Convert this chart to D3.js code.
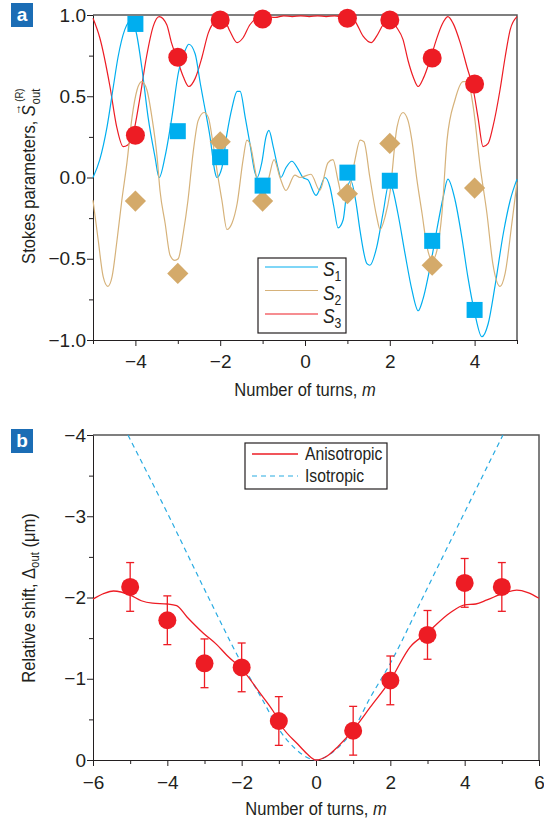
<!DOCTYPE html>
<html>
<head>
<meta charset="utf-8">
<script src="https://cdn.jsdelivr.net/npm/d3@7"></script>
<style>
body { margin: 0; background: #fff; }
svg text { fill: #231f20; }
.tick text { font-family: "Liberation Sans", Arial, sans-serif; font-size: 19px; }
.txt { font-family: "Liberation Sans", Arial, sans-serif; font-size: 19px; }
</style>
</head>
<body>
<div id="chart"></div>
<script>
// ---- panel a : Stokes parameters vs number of turns ----
var turnsA = [-4, -3, -2, -1, 1, 2, 3, 4];
var s1Measured = [0.945, 0.285, 0.125, -0.05, 0.03, -0.02, -0.39, -0.815];
var s2Measured = [-0.145, -0.59, 0.22, -0.145, -0.10, 0.21, -0.54, -0.065];
var s3Measured = [0.26, 0.74, 0.97, 0.975, 0.98, 0.97, 0.735, 0.575];

var s1Curve = [[-5,0],[-4.84,0.11],[-4.67,0.31],[-4.52,0.56],[-4.41,0.74],[-4.25,0.91],[-4.08,0.97],[-3.97,0.88],[-3.85,0.68],[-3.7,0.37],[-3.54,0.13],[-3.44,0],[-3.3,0.13],[-3.14,0.37],[-2.99,0.64],[-2.83,0.78],[-2.74,0.82],[-2.59,0.76],[-2.47,0.58],[-2.4,0.48],[-2.24,0.25],[-2.12,0.03],[-2.08,0],[-1.96,0.06],[-1.84,0.27],[-1.72,0.43],[-1.6,0.53],[-1.53,0.53],[-1.41,0.37],[-1.3,0.21],[-1.18,0.03],[-1.13,0],[-1.02,0.09],[-0.92,0.25],[-0.85,0.29],[-0.75,0.19],[-0.63,0.05],[-0.57,0],[-0.45,0.06],[-0.31,0.1],[-0.16,0.05],[-0.05,0],[0.07,-0.015],[0.26,-0.11],[0.35,-0.07],[0.47,0],[0.59,-0.06],[0.68,-0.18],[0.78,-0.31],[0.9,-0.26],[0.99,-0.08],[1.08,-0.02],[1.2,-0.15],[1.3,-0.33],[1.46,-0.53],[1.53,-0.54],[1.69,-0.43],[1.84,-0.22],[1.98,-0.04],[2.05,-0.06],[2.19,-0.22],[2.36,-0.47],[2.52,-0.69],[2.67,-0.82],[2.78,-0.75],[2.95,-0.55],[3.11,-0.32],[3.26,-0.12],[3.37,-0.01],[3.54,-0.14],[3.7,-0.37],[3.84,-0.61],[4.0,-0.83],[4.17,-0.98],[4.32,-0.9],[4.48,-0.67],[4.68,-0.34],[4.84,-0.14],[5,-0.01]];

var s2Curve = [[-5,-0.14],[-4.88,-0.38],[-4.76,-0.61],[-4.65,-0.67],[-4.55,-0.61],[-4.44,-0.4],[-4.32,-0.14],[-4.2,0.09],[-4.08,0.37],[-3.96,0.54],[-3.85,0.59],[-3.73,0.54],[-3.61,0.37],[-3.49,0.13],[-3.42,-0.08],[-3.3,-0.28],[-3.18,-0.48],[-3.07,-0.51],[-2.99,-0.5],[-2.87,-0.34],[-2.76,-0.14],[-2.64,0.15],[-2.52,0.35],[-2.38,0.4],[-2.28,0.37],[-2.17,0.21],[-2.05,0],[-1.96,-0.14],[-1.84,-0.32],[-1.72,-0.28],[-1.6,-0.16],[-1.46,0.11],[-1.37,0.23],[-1.3,0.21],[-1.18,0.05],[-1.06,-0.1],[-0.97,-0.12],[-0.85,0.0],[-0.73,0.11],[-0.59,0],[-0.45,-0.08],[-0.24,0.015],[-0.12,0],[0.14,0.02],[0.35,-0.08],[0.54,0.09],[0.66,0.11],[0.78,-0.02],[0.9,-0.14],[1.06,-0.06],[1.18,0.11],[1.3,0.23],[1.39,0.22],[1.53,0],[1.69,-0.24],[1.77,-0.32],[1.89,-0.24],[2.0,-0.1],[2.17,0.31],[2.31,0.4],[2.43,0.35],[2.52,0.23],[2.64,-0.015],[2.76,-0.22],[2.88,-0.43],[3.0,-0.51],[3.11,-0.45],[3.23,-0.22],[3.35,0.23],[3.54,0.48],[3.73,0.59],[3.84,0.59],[3.97,0.43],[4.13,0.07],[4.29,-0.22],[4.43,-0.53],[4.6,-0.67],[4.72,-0.59],[4.88,-0.28],[5,-0.03]];

var s3Curve = [[-5,0.98],[-4.84,0.86],[-4.6,0.56],[-4.44,0.31],[-4.29,0.19],[-4.18,0.2],[-4.05,0.27],[-3.9,0.48],[-3.74,0.74],[-3.58,0.93],[-3.44,0.99],[-3.26,0.94],[-3.15,0.83],[-3.03,0.74],[-2.87,0.62],[-2.74,0.56],[-2.59,0.61],[-2.43,0.74],[-2.28,0.89],[-2.12,0.96],[-1.93,0.98],[-1.77,0.9],[-1.6,0.83],[-1.46,0.86],[-1.3,0.94],[-1.13,0.98],[-0.9,0.99],[-0.7,0.985],[-0.5,0.995],[-0.3,0.99],[-0.1,0.995],[0.1,0.99],[0.3,0.995],[0.5,0.99],[0.7,0.995],[0.9,0.985],[1.05,0.98],[1.18,0.96],[1.37,0.87],[1.56,0.83],[1.69,0.87],[1.84,0.94],[1.98,0.98],[2.17,0.92],[2.31,0.85],[2.43,0.72],[2.55,0.62],[2.67,0.56],[2.79,0.61],[2.97,0.74],[3.1,0.85],[3.23,0.94],[3.37,0.99],[3.49,0.95],[3.66,0.83],[3.82,0.68],[3.97,0.54],[4.08,0.37],[4.2,0.19],[4.32,0.21],[4.43,0.31],[4.6,0.54],[4.72,0.74],[4.84,0.91],[5,0.99]];

// ---- panel b : relative shift ----
var turnsB = [-5, -4, -3, -2, -1, 1, 2, 3, 4, 5];
var shiftMeasured = [-2.13, -1.72, -1.19, -1.14, -0.48, -0.36, -0.98, -1.54, -2.18, -2.13];
var shiftError = [0.3, 0.3, 0.3, 0.3, 0.3, 0.3, 0.3, 0.3, 0.3, 0.3];

var anisoCurve = [[-6,-1.98],[-5.7,-2.05],[-5.45,-2.08],[-5.0,-2.03],[-4.7,-1.96],[-4.4,-1.93],[-4.0,-1.92],[-3.75,-1.9],[-3.47,-1.76],[-3.03,-1.56],[-2.67,-1.42],[-2.4,-1.29],[-1.96,-1.1],[-1.5,-0.82],[-1.15,-0.6],[-0.9,-0.4],[-0.5,-0.2],[-0.25,-0.08],[0,0],[0.3,-0.05],[0.6,-0.17],[1.0,-0.37],[1.46,-0.65],[2.0,-0.98],[2.53,-1.39],[2.98,-1.56],[3.6,-1.81],[4.0,-1.91],[4.3,-1.92],[4.6,-1.97],[5.03,-2.05],[5.4,-2.09],[5.7,-2.06],[6,-1.99]];
var isoCurve = [[-5.06,-4],[-4,-3.04],[-3,-2.1],[-2,-1.19],[-1.45,-0.75],[-1,-0.38],[-0.56,-0.14],[0,0],[0.56,-0.14],[1,-0.37],[1.45,-0.76],[2,-1.19],[3,-2.12],[4,-3.05],[5.03,-4]];

var RED = "#ed1c24", BLUE = "#00aeef", TAN = "#d4aa6a", TANLINE = "#d6b27a";
var NARROW = 0.87;

var svg = d3.select("#chart").append("svg")
    .attr("width", 544)
    .attr("height", 823);

// condensed text: a group placed at (x,y), optionally rotated, squeezed horizontally
function ctext(x, y, rot) {
    return svg.append("g")
        .attr("transform", "translate(" + x + "," + y + ")" + (rot ? " rotate(-90)" : "") + " scale(" + NARROW + ",1)");
}

// scales
var xA = d3.scaleLinear().domain([-5, 5]).range([93, 517]);
var yA = d3.scaleLinear().domain([-1, 1]).range([340, 15]);
var xB = d3.scaleLinear().domain([-6, 6]).range([93, 539]);
var yB = d3.scaleLinear().domain([0, -4]).range([760, 435]);

function drawAxes(x, y, xMajor, xMinor, yMajor, yMinor, yFmt, xPad) {
    var x0 = x.range()[0], x1 = x.range()[1];
    var y0 = y.range()[0], y1 = y.range()[1];
    // frame top + right
    svg.append("path")
        .attr("d", "M" + x0 + "," + y1 + "H" + x1 + "V" + y0)
        .attr("fill", "none").attr("stroke", "#555").attr("stroke-width", 1.5);
    svg.append("g")
        .attr("transform", "translate(0," + y0 + ")")
        .call(d3.axisBottom(x).tickValues(xMinor).tickSize(4).tickFormat(""))
        .call(function (g) { g.select(".domain").remove(); });
    svg.append("g")
        .attr("transform", "translate(0," + y0 + ")")
        .call(d3.axisBottom(x).tickValues(xMajor).tickSize(6).tickSizeOuter(0).tickPadding(xPad));
    svg.append("g")
        .attr("transform", "translate(" + x0 + ",0)")
        .call(d3.axisLeft(y).tickValues(yMinor).tickSize(4).tickFormat(""))
        .call(function (g) { g.select(".domain").remove(); });
    svg.append("g")
        .attr("transform", "translate(" + x0 + ",0)")
        .call(d3.axisLeft(y).tickValues(yMajor).tickSize(6).tickSizeOuter(0).tickPadding(1).tickFormat(yFmt));
    svg.selectAll(".domain").attr("stroke", "#231f20");
    svg.selectAll(".tick line").attr("stroke", "#231f20");
}

drawAxes(xA, yA, [-4, -2, 0, 2, 4], [-5, -3, -1, 1, 3, 5],
    [-1, -0.5, 0, 0.5, 1], [-0.75, -0.25, 0.25, 0.75], d3.format(".1f"), 9);
drawAxes(xB, yB, [-6, -4, -2, 0, 2, 4, 6], [-5, -3, -1, 1, 3, 5],
    [0, -1, -2, -3, -4], [-0.5, -1.5, -2.5, -3.5], d3.format("d"), 10);

// panel a curves
var lineA = d3.line().x(function (d) { return xA(d[0]); }).y(function (d) { return yA(d[1]); })
    .curve(d3.curveMonotoneX);
[[s3Curve, RED], [s1Curve, BLUE], [s2Curve, TANLINE]].forEach(function (c) {
    svg.append("path").datum(c[0]).attr("d", lineA)
        .attr("fill", "none").attr("stroke", c[1]).attr("stroke-width", 1.2);
});

// panel a markers
svg.selectAll(".dia").data(turnsA).enter().append("rect")
    .attr("class", "dia")
    .attr("x", -7.5).attr("y", -7.5).attr("width", 15).attr("height", 15)
    .attr("fill", TAN)
    .attr("transform", function (d, i) { return "translate(" + xA(d) + "," + yA(s2Measured[i]) + ") rotate(45)"; });
svg.selectAll(".sq").data(turnsA).enter().append("rect")
    .attr("class", "sq")
    .attr("x", function (d) { return xA(d) - 8; })
    .attr("y", function (d, i) { return yA(s1Measured[i]) - 8; })
    .attr("width", 16).attr("height", 16)
    .attr("fill", BLUE);
svg.selectAll(".circA").data(turnsA).enter().append("circle")
    .attr("class", "circA")
    .attr("cx", function (d) { return xA(d); })
    .attr("cy", function (d, i) { return yA(s3Measured[i]); })
    .attr("r", 9.5)
    .attr("fill", RED);

// panel a legend
svg.append("rect").attr("x", 258).attr("y", 258).attr("width", 88).attr("height", 75)
    .attr("fill", "#fff").attr("stroke", "#231f20").attr("stroke-width", 1.2);
var legA = [["1", BLUE], ["2", TANLINE], ["3", RED]];
legA.forEach(function (l, i) {
    var ly = 267 + i * 23.5;
    svg.append("line").attr("x1", 265).attr("x2", 318).attr("y1", ly).attr("y2", ly)
        .attr("stroke", l[1]).attr("stroke-width", 1.2);
    var t = ctext(323, ly + 9).append("text").attr("class", "txt");
    t.append("tspan").attr("font-style", "italic").style("font-size", "20px").text("S");
    t.append("tspan").style("font-size", "14px").attr("dy", 5).text(l[0]);
});

// panel b curves
var lineB = d3.line().x(function (d) { return xB(d[0]); }).y(function (d) { return yB(d[1]); })
    .curve(d3.curveMonotoneX);
svg.append("path").datum(isoCurve).attr("d", lineB)
    .attr("fill", "none").attr("stroke", "#29abe2").attr("stroke-width", 1.2)
    .attr("stroke-dasharray", "5,4");
svg.append("path").datum(anisoCurve).attr("d", lineB)
    .attr("fill", "none").attr("stroke", RED).attr("stroke-width", 1.3);

// error bars + points
var eb = svg.selectAll(".eb").data(turnsB).enter().append("g").attr("class", "eb");
eb.append("line")
    .attr("x1", function (d) { return xB(d); }).attr("x2", function (d) { return xB(d); })
    .attr("y1", function (d, i) { return yB(shiftMeasured[i] - shiftError[i]); })
    .attr("y2", function (d, i) { return yB(shiftMeasured[i] + shiftError[i]); });
eb.append("line")
    .attr("x1", function (d) { return xB(d) - 4; }).attr("x2", function (d) { return xB(d) + 4; })
    .attr("y1", function (d, i) { return yB(shiftMeasured[i] - shiftError[i]); })
    .attr("y2", function (d, i) { return yB(shiftMeasured[i] - shiftError[i]); });
eb.append("line")
    .attr("x1", function (d) { return xB(d) - 4; }).attr("x2", function (d) { return xB(d) + 4; })
    .attr("y1", function (d, i) { return yB(shiftMeasured[i] + shiftError[i]); })
    .attr("y2", function (d, i) { return yB(shiftMeasured[i] + shiftError[i]); });
eb.selectAll("line").attr("stroke", RED).attr("stroke-width", 1.3);
svg.selectAll(".circB").data(turnsB).enter().append("circle")
    .attr("class", "circB")
    .attr("cx", function (d) { return xB(d); })
    .attr("cy", function (d, i) { return yB(shiftMeasured[i]); })
    .attr("r", 9)
    .attr("fill", RED);

// panel b legend
svg.append("rect").attr("x", 245).attr("y", 443).attr("width", 142).attr("height", 46)
    .attr("fill", "#fff").attr("stroke", "#231f20").attr("stroke-width", 1.2);
svg.append("line").attr("x1", 252).attr("x2", 298).attr("y1", 454).attr("y2", 454)
    .attr("stroke", RED).attr("stroke-width", 1.3);
svg.append("line").attr("x1", 252).attr("x2", 298).attr("y1", 476).attr("y2", 476)
    .attr("stroke", "#29abe2").attr("stroke-width", 1.2).attr("stroke-dasharray", "5,4");
ctext(305, 460).append("text").attr("class", "txt").style("font-size", "18px").text("Anisotropic");
ctext(305, 482).append("text").attr("class", "txt").style("font-size", "18px").text("Isotropic");

// axis titles
function xTitle(x, y) {
    var t = ctext(x, y).append("text").attr("class", "txt").attr("text-anchor", "middle");
    t.append("tspan").text("Number of turns, ");
    t.append("tspan").attr("font-style", "italic").text("m");
}
xTitle(305, 396);
xTitle(316, 815);

// y title a with vector arrow over S
var ga = ctext(35, 175, true).append("g");
var p1 = ga.append("text").attr("class", "txt").attr("x", 0).attr("y", 0).text("Stokes parameters,");
var w1 = p1.node().getComputedTextLength() + 5;
var sS = ga.append("text").attr("class", "txt").attr("x", w1).attr("y", 0)
    .attr("font-style", "italic").text("S");
var ws = sS.node().getComputedTextLength();
ga.append("text").attr("class", "txt").attr("x", w1 + ws / 2 + 1).attr("y", -14)
    .attr("text-anchor", "middle").style("font-size", "13px").text("\u2192");
ga.append("text").attr("class", "txt").attr("x", w1 + ws + 1).attr("y", 5)
    .style("font-size", "13px").text("out");
ga.append("text").attr("class", "txt").attr("x", w1 + ws + 4).attr("y", -12)
    .style("font-size", "11px").text("(R)");
var wa = w1 + ws + 22;
ga.attr("transform", "translate(" + (-wa / 2) + ",0)");

// y title b
var tb = ctext(35, 598, true).append("text").attr("class", "txt").attr("text-anchor", "middle");
tb.append("tspan").text("Relative shift, \u0394");
tb.append("tspan").style("font-size", "13px").attr("dy", 4).text("out");
tb.append("tspan").attr("dy", -4).text(" (\u03bcm)");

// panel letters
[["a", 3], ["b", 429]].forEach(function (p) {
    svg.append("rect").attr("x", 11).attr("y", p[1]).attr("width", 22).attr("height", 24)
        .attr("fill", "#1b6db5");
    svg.append("text").attr("x", 22).attr("y", p[1] + 18).attr("text-anchor", "middle")
        .style("font-family", "'Liberation Sans', Arial, sans-serif").style("font-weight", "bold")
        .style("font-size", "19px").style("fill", "#fff").text(p[0]);
});
</script>
</body>
</html>
